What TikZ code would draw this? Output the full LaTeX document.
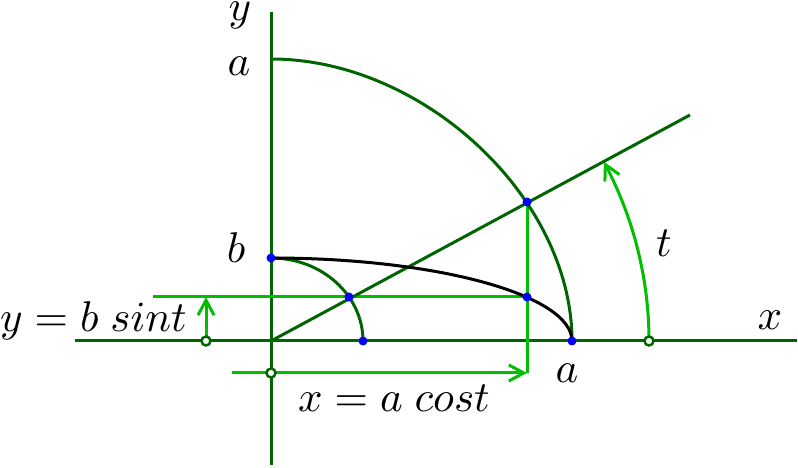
\documentclass[tikz,border=0pt]{standalone}
\usetikzlibrary{arrows.meta,bending}
\definecolor{dkg}{RGB}{0,100,0}
\definecolor{ltg}{RGB}{0,190,0}
\begin{document}
\begin{tikzpicture}[x=1pt,y=1pt,
  axis/.style={dkg,line width=3pt},
  curve/.style={dkg,line width=3pt},
  guide/.style={ltg,line width=3pt},
  arr/.style={-{Straight Barb[length=15pt,width=16pt]}},
  bluedot/.style={circle,fill=blue,inner sep=0pt,minimum size=9pt},
  hollow/.style={circle,draw=dkg,fill=white,line width=2.5pt,inner sep=0pt,minimum size=9pt},
  lbl/.style={inner sep=0pt,anchor=base,scale=4.3}]
\useasboundingbox (0,0) rectangle (798,468);
% coordinates
\coordinate (O) at (271,127);
\coordinate (Ys) at (271,3);
\coordinate (Ye) at (271,456);
\coordinate (Xs) at (75,127);
\coordinate (Xe) at (797,127);
\coordinate (Atop) at (271,409);
\coordinate (A) at (572,127);
\coordinate (B) at (271,210);
\coordinate (Bend) at (363,127);
\coordinate (P) at (527,266);
\coordinate (Q) at (349,171);
\coordinate (E) at (527,171);
\coordinate (L) at (690,353);
\coordinate (H1) at (153,171);
\coordinate (Ydot) at (206,127);
\coordinate (Ytip) at (206,171);
\coordinate (Xdot) at (271,95);
\coordinate (Xs2) at (232,95);
\coordinate (Xa) at (527,95);
\coordinate (Tdot) at (649,127);
% axes
\draw[axis] (Xs) -- (Xe);
\draw[axis] (Ys) -- (Ye);
% guides
\draw[guide] (H1) -- (E);
\draw[guide] (P) -- (Xa);
\draw[guide,arr] (Xs2) -- (Xa);
\draw[guide,arr] (Ydot) -- (Ytip);
\draw[guide,-{Straight Barb[length=15pt,width=16pt,bend]}] (Tdot) arc[start angle=0,end angle=28.3,radius=378];
% curves
\draw[curve] (O) -- (L);
\draw[curve] (Atop) .. controls (423.6,409) and (572,270) .. (A);
\draw[curve] (B) arc[start angle=90,end angle=0,x radius=92,y radius=83];
\draw[black,line width=3pt] (B) arc[start angle=90,end angle=0,x radius=301,y radius=83];
% dots
\node[bluedot] (dB) at (B) {};
\node[bluedot] (dQ) at (Q) {};
\node[bluedot] (dP) at (P) {};
\node[bluedot] (dE) at (E) {};
\node[bluedot] (dA) at (A) {};
\node[bluedot] (dBend) at (Bend) {};
\node[hollow] (hY) at (Ydot) {};
\node[hollow] (hX) at (Xdot) {};
\node[hollow] (hT) at (Tdot) {};
% labels
\node[lbl] (ly) at (240,447) {$y$};
\node[lbl] (la1) at (239,392) {$a$};
\node[lbl] (lb) at (236,205) {$b$};
\node[lbl] (lt) at (664,211) {$t$};
\node[lbl] (lx) at (770,138) {$x$};
\node[lbl] (la2) at (567,85) {$a$};
\node[lbl] (lxa) at (394,56) {$x=a\;cost$};
\node[lbl] (lyb) at (93.5,136) {$y=b\;sint$};
\end{tikzpicture}
\end{document}
